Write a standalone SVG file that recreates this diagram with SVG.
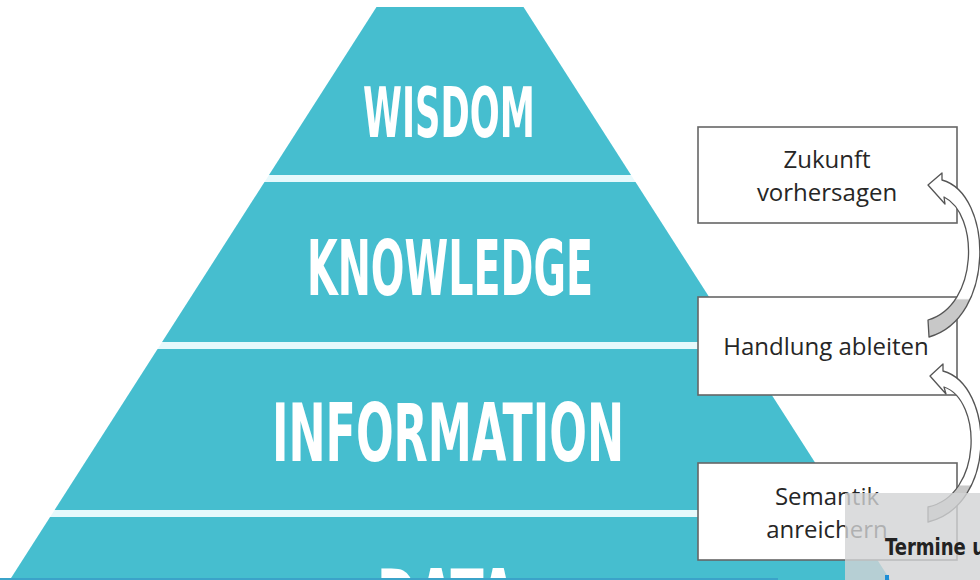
<svg xmlns="http://www.w3.org/2000/svg" width="980" height="580" viewBox="0 0 980 580">
  <style>
    .band { fill: #46BECF; }
    .lvl { font-family: "Liberation Sans Narrow", "DejaVu Sans Condensed", "Liberation Sans", sans-serif; font-weight: bold; fill: #ffffff; text-anchor: middle; }
    .box { fill: #ffffff; stroke: #666666; stroke-width: 1.6; }
    .lbl { font-family: "Open Sans", "Noto Sans", "DejaVu Sans", sans-serif; font-size: 24px; fill: #262626; text-anchor: middle; }
    .arr { stroke: #555555; stroke-width: 1.3; stroke-linejoin: round; }
  </style>
  <defs>
    <linearGradient id="fold1" gradientUnits="userSpaceOnUse" x1="0" y1="180" x2="0" y2="340">
      <stop offset="0.74" stop-color="#ffffff"/>
      <stop offset="0.75" stop-color="#c8c8c8"/>
    </linearGradient>
    <linearGradient id="fold2" gradientUnits="userSpaceOnUse" x1="0" y1="370" x2="0" y2="525">
      <stop offset="0.74" stop-color="#ffffff"/>
      <stop offset="0.75" stop-color="#c8c8c8"/>
    </linearGradient>
  </defs>
  <rect x="0" y="0" width="980" height="580" fill="#ffffff"/>

  <!-- pyramid background (gaps) -->
  <polygon points="376.5,7 523.5,7 890.2,580 9.8,580" fill="#e6f9fc"/>

  <g id="wisdom">
    <polygon class="band" points="376.5,7 523.5,7 631,175 269,175"/>
    <text class="lvl" x="449" y="137" font-size="69" textLength="172" lengthAdjust="spacingAndGlyphs">WISDOM</text>
  </g>
  <g id="knowledge">
    <polygon class="band" points="264.5,182 635.5,182 737.9,342 162.1,342"/>
    <text class="lvl" x="450" y="295" font-size="76" textLength="286" lengthAdjust="spacingAndGlyphs">KNOWLEDGE</text>
  </g>
  <g id="information">
    <polygon class="band" points="157.6,349 742.4,349 845.4,510 54.6,510"/>
    <text class="lvl" x="448" y="461" font-size="80" textLength="352" lengthAdjust="spacingAndGlyphs">INFORMATION</text>
  </g>
  <g id="data">
    <polygon class="band" points="50.1,517 849.9,517 890.2,580 9.8,580"/>
    <text class="lvl" x="447" y="627" font-size="80" textLength="140" lengthAdjust="spacingAndGlyphs">DATA</text>
  </g>

  <g id="box-zukunft">
    <rect class="box" x="698" y="127" width="259" height="96"/>
    <text class="lbl" x="827" y="168">Zukunft</text>
    <text class="lbl" x="827" y="201">vorhersagen</text>
  </g>
  <g id="box-handlung">
    <rect class="box" x="698" y="297" width="259" height="98"/>
    <text class="lbl" x="826" y="355">Handlung ableiten</text>
  </g>
  <g id="box-semantik">
    <rect class="box" x="698" y="463" width="259" height="97"/>
    <text class="lbl" x="827" y="505">Semantik</text>
    <text class="lbl" x="827" y="538">anreichern</text>
  </g>

  <g id="connectors">
    <path class="arr" fill="url(#fold1)" d="M928,185 L942,173 L942,180 C993,194 996,318 929,337 L928,320 C979,305 979,214 944,197 L945,204 Z"/>
    <path class="arr" fill="url(#fold2)" d="M930,376 L943,364 L943,371 C994,385 998,505 928,522 L928,507 C983,495 982,400 944,387 L946,394 Z"/>
  </g>

  <!-- overlay in the lower right corner -->
  <g id="overlay">
    <rect x="845" y="493" width="135" height="87" fill="#d2d3d5" fill-opacity="0.8"/>
    <text x="885" y="555" font-family="Liberation Sans Narrow, DejaVu Sans Condensed, Liberation Sans, sans-serif" font-weight="bold" font-size="23" fill="#222222" textLength="100" lengthAdjust="spacingAndGlyphs">Termine u</text>
    <rect x="885" y="575" width="4" height="5" fill="#1e8fd6"/>
  </g>
  <rect x="0" y="578" width="778" height="2" fill="#3ba3c9"/>
</svg>
